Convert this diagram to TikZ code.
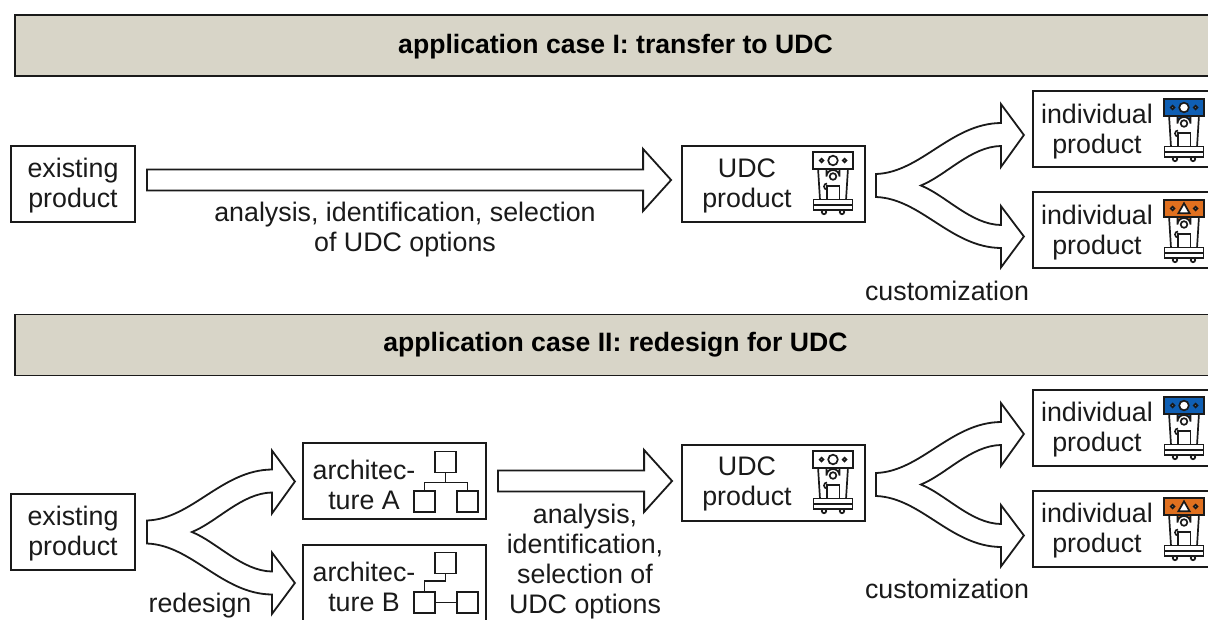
\documentclass[tikz,border=0pt]{standalone}
\usepackage{fontspec}
\setmainfont{Liberation Sans}
\usetikzlibrary{calc}
\definecolor{hdr}{HTML}{D8D5C8}
\definecolor{lineK}{HTML}{1A1A1A}
\definecolor{iblue}{HTML}{0F5FB4}
\definecolor{iorange}{HTML}{E0701F}
\tikzset{
  ln/.style={draw=lineK,line width=1.8pt},
  boxn/.style={ln,fill=white,rectangle,inner sep=0pt,minimum width=#1,minimum height=76pt},
  hdrbox/.style={ln,fill=hdr,rectangle,inner sep=0pt,minimum width=1210pt,minimum height=61pt,anchor=west},
  hdrtxt/.style={font=\fontsize{26.6}{30}\selectfont\bfseries,inner sep=0pt},
  txt/.style={font=\fontsize{26.8}{30}\selectfont,align=center,inner sep=0pt,text=lineK},
  arrowshape/.style={draw=lineK,line width=1.8pt,fill=white,line join=miter,miter limit=10},
  sq/.style={draw=lineK,line width=1.8pt,fill=white,rectangle,minimum size=21pt,inner sep=0pt},
  link/.style={draw=lineK,line width=1.8pt},
  icn/.style={draw=lineK,line width=1.7pt},
  pics/machine/.style 2 args={code={
    \draw[icn,fill=white] (-15,16) -- (-13,48) -- (13,48) -- (15,16) -- cycle;
    \draw[icn,fill=#1] (-6.5,16) -- (-6.5,24.5) arc[start angle=180,end angle=360,radius=6.5] -- (6.5,16) -- cycle;
    \draw[icn,fill=white] (0,24.5) circle[radius=3.3];
    \draw[icn,fill=white] (-6,34) rectangle (6.5,47.5);
    \draw[icn] (-6,37.5) arc[start angle=90,end angle=270,radius=3];
    \draw[icn,fill=#1] (-20,0) rectangle (20,17);
    #2
    \draw[icn,fill=white] (-11.5,8.5) circle[radius=1.8];
    \draw[icn,fill=white] (11.5,8.5) circle[radius=1.8];
    \draw[icn,fill=white] (-9,60) circle[radius=2.2];
    \draw[icn,fill=white] (9,60) circle[radius=2.2];
    \draw[icn,fill=white] (-19.5,47.5) rectangle (19.5,58);
    \draw[icn] (-19.5,53) -- (19.5,53);
  }},
}
\newcommand{\circlemark}{\draw[icn,fill=white] (0,8.5) circle[radius=4.8];}
\newcommand{\triamark}{\draw[icn,fill=white] (0,3.3) -- (5.6,13.2) -- (-5.6,13.2) -- cycle;}
% block arrow between two named coordinates, same height
\newcommand{\blockarrow}[2]{%
  \draw[arrowshape] ($(#1)+(0,-10.5)$) -- ($(#2)+(-28,-10.5)$) -- ($(#2)+(-28,-31)$) -- (#2)
    -- ($(#2)+(-28,31)$) -- ($(#2)+(-28,10.5)$) -- ($(#1)+(0,10.5)$) -- cycle;}
% split arrow from a named coordinate
\newcommand{\splitarrow}[1]{%
  \begin{scope}[shift={(#1)}]
  \draw[arrowshape] (0,-11.5)
      .. controls (45,-13) and (75,-62) .. (125,-62.5) -- (125,-81.5) -- (148,-50.5) -- (125,-18.5)
      -- (125,-39.5) .. controls (95,-39) and (70,-10) .. (45,0)
      .. controls (70,10) and (95,39) .. (125,39.5) -- (125,20.5) -- (148,51) -- (125,82)
      -- (125,62.5) .. controls (75,62) and (45,13) .. (0,11.5) -- cycle;
  \end{scope}}
\begin{document}
\begin{tikzpicture}[x=1pt,y=-1pt]
\useasboundingbox (0,0) rectangle (1208,619);
\clip (0,0) rectangle (1208,619);
\fill[white] (0,0) rectangle (1208,619);
% headers
\node[hdrbox] (h1) at (14,45.5) {};
\node[hdrtxt] (h1t) at (615.5,46.5) {application case I: transfer to UDC};
\node[hdrbox] (h2) at (14,345) {};
\node[hdrtxt] (h2t) at (615.5,344.5) {application case II: redesign for UDC};
% case I boxes
\node[boxn=124pt] (ex1) at (73,184) {};
\node[boxn=183pt] (udc1) at (773.5,184) {};
\node[boxn=190pt] (ind1) at (1128,129) {};
\node[boxn=190pt] (ind2) at (1128,230) {};
% case II boxes
\node[boxn=124pt] (ex2) at (73,532) {};
\node[boxn=183pt] (archa) at (394.5,481) {};
\node[boxn=183pt] (archb) at (394.5,583) {};
\node[boxn=183pt] (udc2) at (773.5,483) {};
\node[boxn=190pt] (ind3) at (1128,428) {};
\node[boxn=190pt] (ind4) at (1128,529) {};
% arrows
\coordinate (a1s) at ($(ex1.east)+(11,-4)$);
\coordinate (a1t) at ($(udc1.west)+(-10,-4)$);
\blockarrow{a1s}{a1t}
\coordinate (a2s) at ($(archa.east)+(11,0)$);
\coordinate (a2t) at ($(udc2.west)+(-9,-2)$);
\blockarrow{a2s}{a2t}
\coordinate (s1) at ($(udc1.east)+(10,1.5)$);
\splitarrow{s1}
\coordinate (s2) at ($(udc2.east)+(10,1.5)$);
\splitarrow{s2}
\coordinate (s3) at ($(ex2.east)+(11,0)$);
\splitarrow{s3}
% texts
\node[txt] (t1) at (73,185.5) {existing\\product};
\node[txt] (t2) at (747,185.5) {UDC\\product};
\node[txt] (t3) at (1097,131.5) {individual\\product};
\node[txt] (t4) at (1097,232.5) {individual\\product};
\node[txt] (t5) at (405,230) {analysis, identification, selection\\of UDC options};
\node[txt] (t6) at (947,291) {customization};
\node[txt] (t7) at (73,533.5) {existing\\product};
\node[txt] (t8) at (364,485) {architec-\\ture A};
\node[txt] (t9) at (364,587) {architec-\\ture B};
\node[txt] (t10) at (585,562) {analysis,\\identification,\\selection of\\UDC options};
\node[txt] (t11) at (747,484) {UDC\\product};
\node[txt] (t12) at (1097,429.5) {individual\\product};
\node[txt] (t13) at (1097,530.5) {individual\\product};
\node[txt] (t14) at (947,589) {customization};
\node[txt] (t15) at (200,606) {redesign};
% machines
\pic at (833,152) {machine={white}{\circlemark}};
\pic at (833,451) {machine={white}{\circlemark}};
\pic at (1184,99) {machine={iblue}{\circlemark}};
\pic at (1184,200) {machine={iorange}{\triamark}};
\pic at (1184,397) {machine={iblue}{\circlemark}};
\pic at (1184,498) {machine={iorange}{\triamark}};
% architecture A
\node[sq] (at) at (445.5,462) {};
\node[sq] (al) at (424.5,501.5) {};
\node[sq] (ar) at (467.5,501.5) {};
\draw[link] (at.south) -- ++(0,9) coordinate (aj);
\draw[link] (al.north) |- (aj) -| (ar.north);
% architecture B
\node[sq] (bt) at (445.5,563) {};
\node[sq] (bl) at (424.5,602.5) {};
\node[sq] (br) at (467.5,602.5) {};
\draw[link] (bt.south) |- ($(bl.north)+(0,-10)$) -- (bl.north);
\draw[link] (bl.east) -- (br.west);
\end{tikzpicture}
\end{document}
